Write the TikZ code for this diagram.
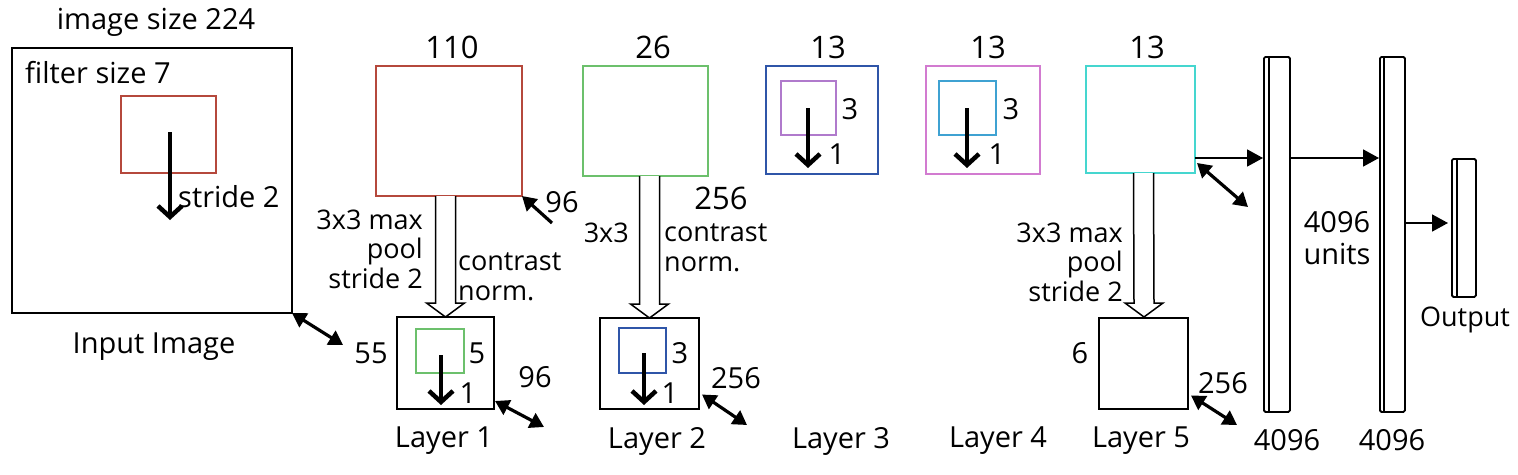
\documentclass[tikz,border=0pt]{standalone}
\usepackage{fontspec}
\setmainfont{Open Sans}
\usetikzlibrary{arrows.meta,calc}
\definecolor{cred}{HTML}{B5483C}
\definecolor{cgreen}{HTML}{6CC06C}
\definecolor{cblue}{HTML}{2F55A8}
\definecolor{cpurple}{HTML}{B07ACC}
\definecolor{cpink}{HTML}{D27BD0}
\definecolor{clblue}{HTML}{3FA2D2}
\definecolor{ccyan}{HTML}{45D6CF}
\newcommand\hollowarrow[2]{%
  \draw[hollow] ($(#2.north |- #1.south)+(-10,0)$) -- ($(#2.north)+(-10,-14)$) -- ($(#2.north)+(-19,-14)$) -- (#2.north) -- ($(#2.north)+(19,-14)$) -- ($(#2.north)+(10,-14)$) -- ($(#2.north |- #1.south)+(10,0)$);}
\begin{document}
\begin{tikzpicture}[x=1pt,y=-1pt,
  box/.style={draw, line width=1.8pt, inner sep=0pt, outer sep=0pt, anchor=north west},
  fc/.style={draw, line width=1.8pt, rounded corners=1.5pt},
  lbl/.style={inner sep=0pt, font=\fontsize{29}{32}\selectfont},
  big/.style={inner sep=0pt, font=\fontsize{31}{34}\selectfont},
  sml/.style={inner sep=0pt, font=\fontsize{27}{29.5}\selectfont},
  stridearrow/.style={line width=4.5pt, -{Straight Barb[length=11pt,width=24pt]}},
  dbl/.style={line width=3.2pt, {Triangle[length=14pt,width=16pt]}-{Triangle[length=14pt,width=16pt]}},
  sgl/.style={line width=3.2pt, -{Triangle[length=14pt,width=16pt]}},
  fwd/.style={line width=1.8pt, -{Triangle[length=16pt,width=17pt]}},
  hollow/.style={line width=1.5pt, fill=white, line join=miter}]
\useasboundingbox (0,0) rectangle (1518,474);
\fill[white] (0,0) rectangle (1518,474);

% ---- input image
\node[box, minimum width=280pt, minimum height=265pt] (inp) at (12,48) {};
\node[box, draw=cred, line width=1.4pt, minimum width=95pt, minimum height=77pt] (filt) at (121,96) {};
\node[lbl] (tsize) at (156,22) {image size 224};
\node[lbl, anchor=west] (tfilt) at (25,73) {filter size 7};
\coordinate (s0a) at (170,132);
\coordinate (s0b) at (170,220);
\draw[stridearrow] (s0a) -- (s0b);
\node[lbl, anchor=west] (tstride) at (178,197) {stride 2};
\node[lbl] (tinput) at (154,347) {Input Image};
\coordinate (d0) at (343,345);
\draw[dbl] (inp.south east) -- (d0);

% ---- layer 1
\node[big] (t110) at (452,47) {110};
\node[box, draw=cred, minimum width=146pt, minimum height=130pt] (r110) at (376,66) {};
\node[lbl] (t96a) at (562,202) {96};
\coordinate (a96) at (552,223);
\draw[sgl] (a96) -- (r110.south east);
\node[box, minimum width=97pt, minimum height=92pt] (l1) at (397,317) {};
\hollowarrow{r110}{l1}
\node[sml, align=right, anchor=east] (tpool1) at (423,249) {3x3 max\\pool\\stride 2};
\node[sml, align=left, anchor=west] (tcn1) at (458,277) {contrast\\norm.};
\node[box, draw=cgreen, line width=1.6pt, minimum width=48pt, minimum height=44pt] (f1) at (416,329) {};
\draw[stridearrow] (441,355) -- (441,405);
\node[lbl] (t5) at (477,353) {5};
\node[lbl] (t1a) at (468,393) {1};
\node[lbl] (t55) at (371,353) {55};
\node[lbl] (t96b) at (535,377) {96};
\coordinate (d1) at (544,427);
\draw[dbl] ($(l1.east)+(1,38)$) -- (d1);
\node[lbl] (tl1) at (444,441) {Layer 1};

% ---- layer 2
\node[big] (t26) at (653,47) {26};
\node[box, draw=cgreen, minimum width=125pt, minimum height=110pt] (g26) at (583,66) {};
\node[big] (t256a) at (721,198) {256};
\node[box, minimum width=99pt, minimum height=91pt] (l2) at (600,318) {};
\hollowarrow{g26}{l2}
\node[sml, anchor=east] (tpool2) at (629,233) {3x3};
\node[sml, align=left, anchor=west] (tcn2) at (664,248) {contrast\\norm.};
\node[box, draw=cblue, line width=1.6pt, minimum width=47pt, minimum height=45pt] (f2) at (619,328) {};
\draw[stridearrow] (644,353) -- (644,405);
\node[lbl] (t3a) at (680,353) {3};
\node[lbl] (t1b) at (670,393) {1};
\node[lbl] (t256b) at (736,378) {256};
\coordinate (d2) at (747,425);
\draw[dbl] ($(l2.east)+(3,31)$) -- (d2);
\node[lbl] (tl2) at (657,441) {Layer 2};

% ---- layer 3
\node[big] (t13a) at (828,47) {13};
\node[box, draw=cblue, minimum width=112pt, minimum height=108pt] (l3) at (766,66) {};
\node[box, draw=cpurple, line width=1.6pt, minimum width=55pt, minimum height=54pt] (f3) at (781,81) {};
\draw[stridearrow] (808,108) -- (808,168);
\node[lbl] (t3b) at (850,109) {3};
\node[lbl] (t1c) at (837,154) {1};
\node[lbl] (tl3) at (841,441) {Layer 3};

% ---- layer 4
\node[big] (t13b) at (988,47) {13};
\node[box, draw=cpink, minimum width=114pt, minimum height=108pt] (l4) at (926,66) {};
\node[box, draw=clblue, line width=1.6pt, minimum width=57pt, minimum height=54pt] (f4) at (939,81) {};
\draw[stridearrow] (967,108) -- (967,168);
\node[lbl] (t3c) at (1011,109) {3};
\node[lbl] (t1d) at (997,154) {1};
\node[lbl] (tl4) at (998,441) {Layer 4};

% ---- layer 5
\node[big] (t13c) at (1147,47) {13};
\node[box, draw=ccyan, minimum width=109pt, minimum height=107pt] (c13) at (1086,66) {};
\node[box, minimum width=89pt, minimum height=91pt] (l5) at (1099,318) {};
\draw[hollow] ($(c13.south)+(-7,0)$) -- (1134,303) -- (1125,303) -- (1144,317) -- (1163,303) -- (1154,303) -- ($(c13.south)+(13,0)$);
\node[sml, align=right, anchor=east] (tpool5) at (1123,262) {3x3 max\\pool\\stride 2};
\node[lbl] (t6) at (1080,353) {6};
\node[lbl] (t256c) at (1223,383) {256};
\coordinate (d5) at (1237,425);
\draw[dbl] ($(l5.east)+(3,32)$) -- (d5);
\node[lbl] (tl5) at (1141,441) {Layer 5};

% ---- fully connected
\node[fc, minimum width=26pt, minimum height=355pt, inner sep=0pt, anchor=north west] (fc1) at (1263,56) {};
\draw[line width=1.4pt] (1269,56) -- (1269,411);
\node[fc, minimum width=25pt, minimum height=355pt, inner sep=0pt, anchor=north west] (fc2) at (1379,56) {};
\draw[line width=1.4pt] (1384,56) -- (1384,411);
\node[fc, minimum width=24pt, minimum height=138pt, inner sep=0pt, anchor=north west] (out) at (1451,158) {};
\draw[line width=1.4pt] (1457,158) -- (1457,296);
\draw[fwd] (c13.east |- 0,158) -- (fc1.west |- 0,158);
\draw[fwd] (fc1.east |- 0,158) -- (fc2.west |- 0,158);
\draw[fwd] (fc2.east |- 0,223) -- (1448,223);
\coordinate (d5b) at (1248,207);
\draw[dbl] ($(c13.south east)+(2,-10)$) -- (d5b);
\node[lbl, align=center] (tunits) at (1337,238) {4096\\units};
\node[sml] (tout) at (1465,320) {Output};
\node[lbl] (t4096a) at (1287,440) {4096};
\node[lbl] (t4096b) at (1392,440) {4096};
\end{tikzpicture}
\end{document}
